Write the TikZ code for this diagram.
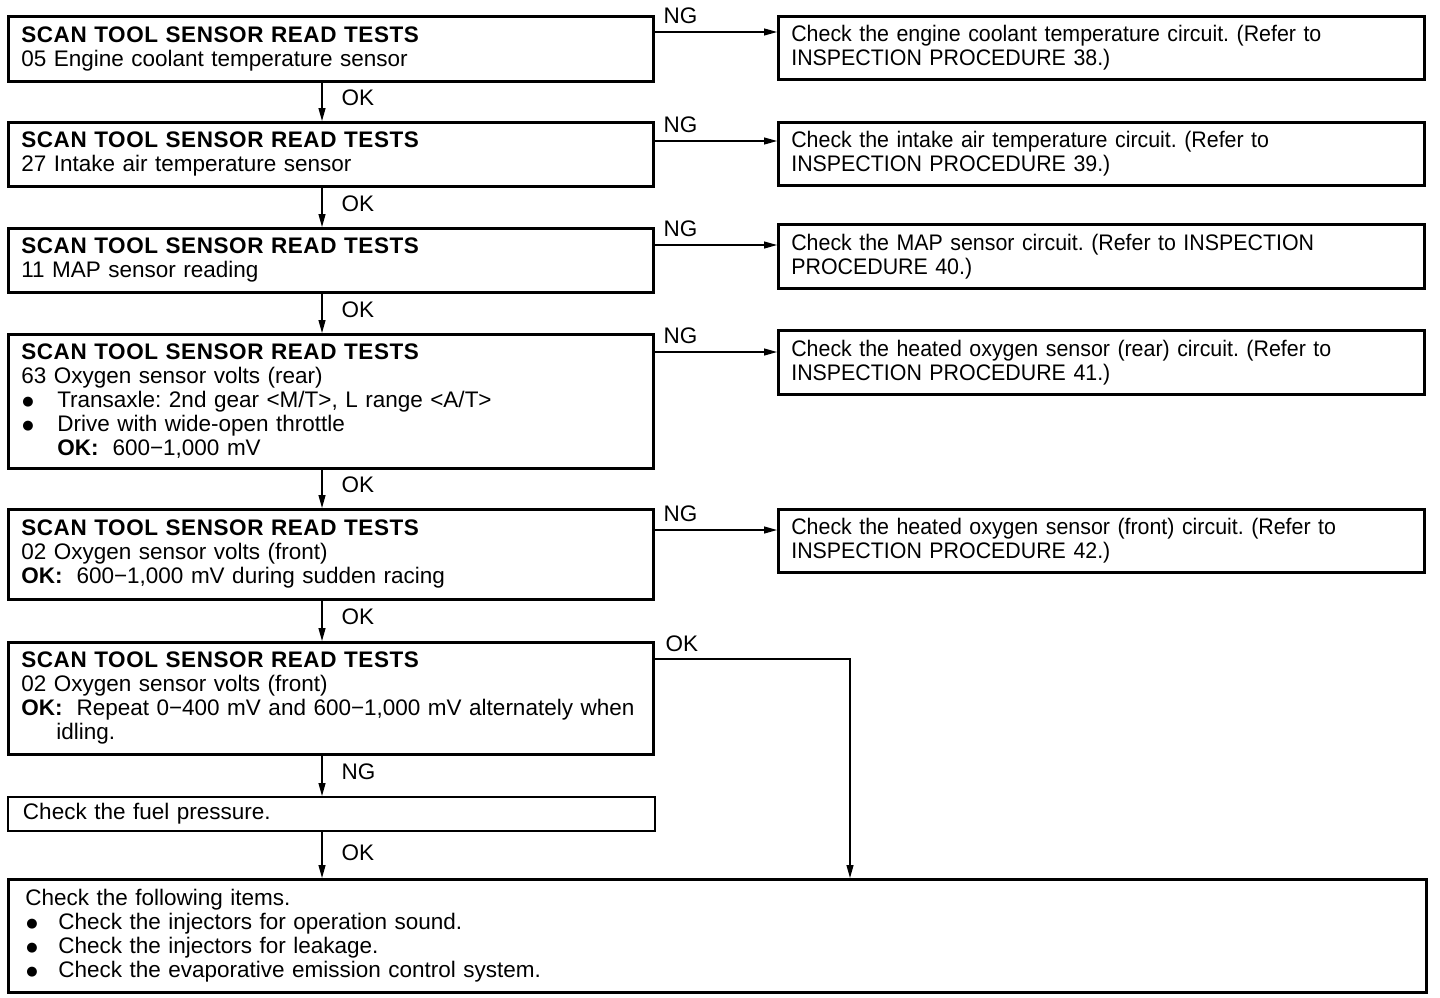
\documentclass[tikz,border=0pt]{standalone}
\usepackage{fontspec}
\setmainfont{Liberation Sans}
\newfontfamily\dotfont{DejaVu Sans}
\usetikzlibrary{arrows.meta,positioning}
\frenchspacing
\newcommand\scanhd{{\bfseries\addfontfeatures{LetterSpace=2.6}SCAN TOOL SENSOR READ TESTS}}
\newcommand\oklbl{\textbf{OK:}\hspace{14pt}}
\newcommand\bul[1][36pt]{\makebox[#1][l]{\hspace{1pt}\raisebox{2.5pt}{\dotfont\fontsize{13}{13}\selectfont ●}}}

\begin{document}
\begin{tikzpicture}[x=1pt, y=-1pt,
  every node/.style={font=\fontsize{22.5}{24}\selectfont},
  box/.style={draw, line width=2.6pt, anchor=north west, align=left, inner xsep=13pt,
              inner ysep=0pt, text width=619pt},
  rbox/.style={box, text width=620pt,
               font=\fontsize{22.5}{24}\selectfont\addfontfeatures{FakeStretch=0.95}},
  ar/.style={-{Triangle[length=13pt,width=7pt]}, line width=1.2pt},
  lb/.style={inner sep=2pt},
]
\useasboundingbox (0,0) rectangle (1440,998);

\node[box, minimum height=65pt] (t1) at (7,15) {\scanhd\\05 Engine coolant temperature sensor};
\node[box, minimum height=64pt] (t2) at (7,121) {\scanhd\\27 Intake air temperature sensor};
\node[box, minimum height=64pt] (t3) at (7,227) {\scanhd\\11 MAP sensor reading};
\node[box, minimum height=134pt] (t4) at (7,333) {\scanhd\\63 Oxygen sensor volts (rear)\\
  \bul Transaxle: 2nd gear <M/T>, L range <A/T>\\\bul Drive with wide-open throttle\\
  \hspace*{36pt}\oklbl 600−1,000 mV};
\node[box, minimum height=90pt] (t5) at (7,508) {\scanhd\\02 Oxygen sensor volts (front)\\
  \oklbl 600−1,000 mV during sudden racing};
\node[box, minimum height=112pt] (t6) at (7,641) {\scanhd\\02 Oxygen sensor volts (front)\\
  \makebox[621pt][s]{\oklbl Repeat 0−400 mV and 600−1,000 mV alternately when}\\
  \hspace*{35pt}idling.};
\node[box, line width=2pt, inner xsep=15pt, text width=617pt, minimum height=34pt] (f1) at (7,796)
  {Check the fuel pressure.};
\node[box, inner xsep=17pt, text width=1384pt, minimum height=113pt] (c1) at (7,878)
  {Check the following items.\\\bul[33pt]Check the injectors for operation sound.\\
  \bul[33pt]Check the injectors for leakage.\\\bul[33pt]Check the evaporative emission control system.};

\node[rbox, minimum height=63pt] (r1) at (777,15)
  {Check the engine coolant temperature circuit. (Refer to\\INSPECTION PROCEDURE 38.)};
\node[rbox, minimum height=63pt] (r2) at (777,121)
  {Check the intake air temperature circuit. (Refer to\\INSPECTION PROCEDURE 39.)};
\node[rbox, minimum height=64pt] (r3) at (777,223)
  {Check the MAP sensor circuit. (Refer to INSPECTION\\PROCEDURE 40.)};
\node[rbox, minimum height=64pt] (r4) at (777,329)
  {Check the heated oxygen sensor (rear) circuit. (Refer to\\INSPECTION PROCEDURE 41.)};
\node[rbox, minimum height=63pt] (r5) at (777,508)
  {Check the heated oxygen sensor (front) circuit. (Refer to\\INSPECTION PROCEDURE 42.)};

\coordinate (sp) at (322,0);
\draw[ar] (t1.south -| sp) -- node[lb, anchor=west, xshift=17pt, yshift=4pt] {OK} (t2.north -| sp);
\draw[ar] (t2.south -| sp) -- node[lb, anchor=west, xshift=17pt, yshift=4pt] {OK} (t3.north -| sp);
\draw[ar] (t3.south -| sp) -- node[lb, anchor=west, xshift=17pt, yshift=4pt] {OK} (t4.north -| sp);
\draw[ar] (t4.south -| sp) -- node[lb, anchor=west, xshift=17pt, yshift=4pt] {OK} (t5.north -| sp);
\draw[ar] (t5.south -| sp) -- node[lb, anchor=west, xshift=17pt, yshift=4pt] {OK} (t6.north -| sp);
\draw[ar] (t6.south -| sp) -- node[lb, anchor=west, xshift=17pt, yshift=4pt] {NG} (f1.north -| sp);
\draw[ar] (f1.south -| sp) -- node[lb, anchor=west, xshift=17pt, yshift=2pt] {OK} (c1.north -| sp);

\foreach \i/\y in {1/32,2/141,3/245,4/352,5/530} {
  \coordinate (ng\i) at (652,\y);
  \draw[ar] (ng\i) node[lb, anchor=south west, xshift=9pt, yshift=6pt] {NG} -- (ng\i -| r\i.west);
}

\coordinate (ok6) at (652,659);
\coordinate (ok6turn) at (850,659);
\draw[ar] (ok6) node[lb, anchor=south west, xshift=11pt, yshift=5pt] {OK} -- (ok6turn) -- (ok6turn |- c1.north);
\end{tikzpicture}
\end{document}
